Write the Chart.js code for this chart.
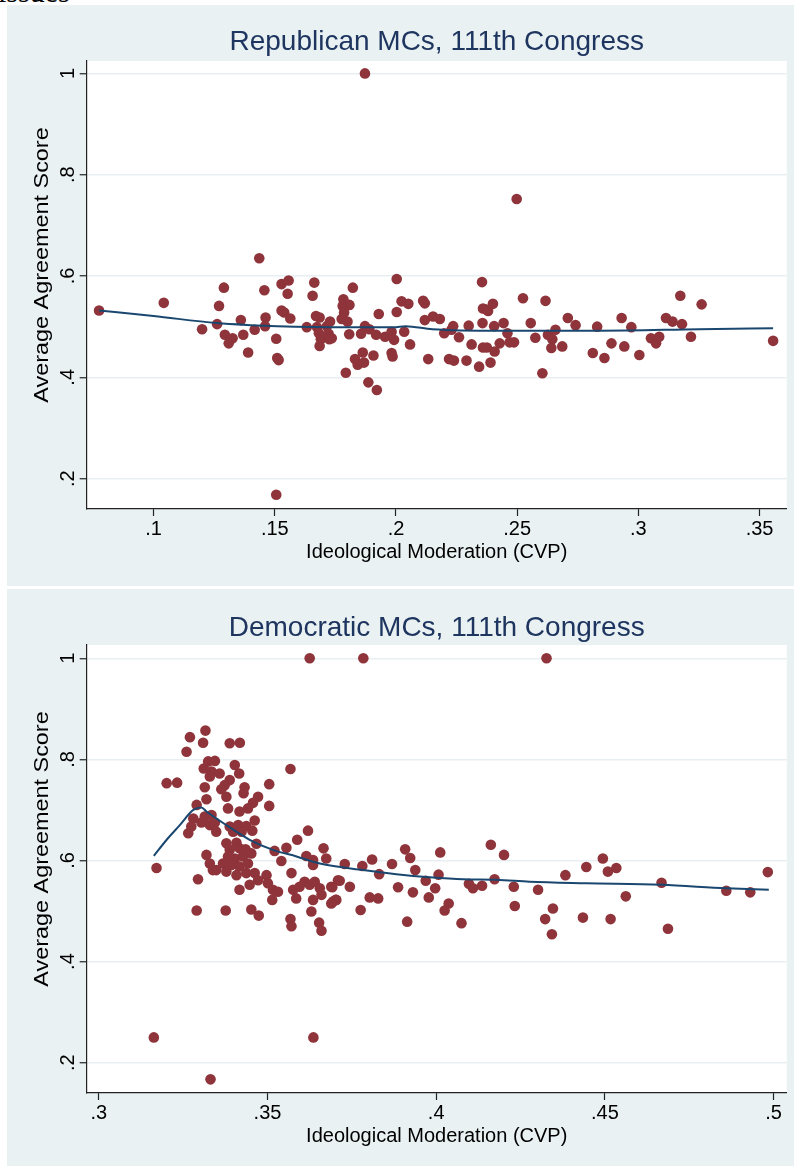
<!DOCTYPE html>
<html>
<head>
<meta charset="utf-8">
<script src="https://cdn.jsdelivr.net/npm/chart.js@4.4.1/dist/chart.umd.min.js"></script>
<style>
  body { margin: 0; background: #fff; width: 794px; height: 1166px; position: relative; overflow: hidden; }
  .panel { position: absolute; left: 7px; background: #EAF1F3; }
  .panel canvas { display: block; }
  #word { position: absolute; left: -2px; top: -25px; font: 30px "Liberation Serif", "Times New Roman", serif; color: #000; }
</style>
</head>
<body>
<div id="word">issues</div>
<div class="panel" style="top:5px"><canvas id="repChart" width="787" height="581"></canvas></div>
<div class="panel" style="top:589px"><canvas id="demChart" width="787" height="577"></canvas></div>
<script>
// Republicans: CVP (ideological moderation) vs. average agreement score
const repCvp = [
  0.0775, 0.1042, 0.1200, 0.1262, 0.1270, 0.1290, 0.1294, 0.1310, 0.1326, 0.1360,
  0.1370, 0.1390, 0.1417, 0.1436, 0.1457, 0.1462, 0.1460, 0.1506, 0.1510, 0.1516,
  0.1528, 0.1557, 0.1553, 0.1528, 0.1539, 0.1564, 0.1632, 0.1656, 0.1663, 0.1670,
  0.1685, 0.1674, 0.1682, 0.1690, 0.1685, 0.1715, 0.1728, 0.1722, 0.1735, 0.1725,
  0.1783, 0.1780, 0.1808, 0.1786, 0.1776, 0.1800, 0.1822, 0.1807, 0.1793, 0.1831,
  0.1842, 0.1863, 0.1868, 0.1856, 0.1872, 0.1890, 0.1907, 0.1886, 0.1921, 0.1918,
  0.1929, 0.1955, 0.1982, 0.1992, 0.1982, 0.1986, 0.2003, 0.2003, 0.2023, 0.2051,
  0.2034, 0.2058, 0.2112, 0.2119, 0.2119, 0.2133, 0.2153, 0.2181, 0.2199, 0.2219,
  0.2239, 0.2229, 0.2236, 0.2260, 0.2291, 0.2300, 0.2312, 0.2343, 0.2355, 0.2359,
  0.2373, 0.2380, 0.2400, 0.2357, 0.2359, 0.2375, 0.2390, 0.2407, 0.2405, 0.2428,
  0.2444, 0.2460, 0.2469, 0.2487, 0.2524, 0.2556, 0.2575, 0.2604, 0.2617, 0.2627,
  0.2645, 0.2658, 0.2641, 0.2686, 0.2709, 0.2741, 0.2812, 0.2830, 0.2860, 0.2889,
  0.2931, 0.2942, 0.2971, 0.3004, 0.3052, 0.3073, 0.3086, 0.3114, 0.3141, 0.3180,
  0.3173, 0.3217, 0.3261, 0.3556, 0.1872, 0.2498, 0.1506
];
const repScore = [
  0.532, 0.547, 0.495, 0.505, 0.541, 0.577, 0.484, 0.467, 0.477, 0.513,
  0.484, 0.449, 0.494, 0.635, 0.572, 0.518, 0.501, 0.476, 0.438, 0.434,
  0.584, 0.591, 0.565, 0.532, 0.528, 0.516, 0.499, 0.561, 0.587, 0.521,
  0.518, 0.499, 0.487, 0.475, 0.462, 0.501, 0.510, 0.486, 0.477, 0.475,
  0.554, 0.541, 0.543, 0.528, 0.515, 0.510, 0.577, 0.485, 0.409, 0.436,
  0.425, 0.449, 0.429, 0.486, 0.501, 0.495, 0.443, 0.390, 0.375, 0.484,
  0.525, 0.480, 0.490, 0.474, 0.448, 0.441, 0.594, 0.529, 0.550, 0.545,
  0.490, 0.465, 0.551, 0.546, 0.513, 0.436, 0.520, 0.515, 0.487, 0.436,
  0.433, 0.494, 0.501, 0.479, 0.433, 0.502, 0.465, 0.421, 0.588, 0.536,
  0.534, 0.531, 0.545, 0.507, 0.459, 0.459, 0.429, 0.451, 0.501, 0.467,
  0.507, 0.487, 0.469, 0.469, 0.556, 0.507, 0.478, 0.408, 0.551, 0.484,
  0.475, 0.494, 0.458, 0.461, 0.517, 0.503, 0.448, 0.500, 0.438, 0.467,
  0.517, 0.461, 0.499, 0.444, 0.477, 0.467, 0.480, 0.517, 0.510, 0.505,
  0.561, 0.480, 0.544, 0.472, 1.000, 0.752, 0.168
];
// lowess curve for Republicans
const repFitX = [0.0775, 0.100, 0.126, 0.140, 0.151, 0.178, 0.199, 0.204, 0.215, 0.243, 0.284, 0.325, 0.3556];
const repFitY = [0.532, 0.521, 0.507, 0.503, 0.501, 0.499, 0.499, 0.501, 0.495, 0.492, 0.492, 0.495, 0.497];

// Democrats
const demCvp = [
  0.3270, 0.3316, 0.3260, 0.3309, 0.3388, 0.3418, 0.3201, 0.3232, 0.3568, 0.3171,
  0.3324, 0.3344, 0.3311, 0.3334, 0.3358, 0.3329, 0.3403, 0.3416, 0.3388, 0.3373,
  0.3314, 0.3363, 0.3378, 0.3432, 0.3429, 0.3383, 0.3472, 0.3457, 0.3442, 0.3417,
  0.3505, 0.3505, 0.3319, 0.3290, 0.3280, 0.3314, 0.3334, 0.3344, 0.3304, 0.3329,
  0.3348, 0.3265, 0.3274, 0.3388, 0.3413, 0.3423, 0.3437, 0.3462, 0.3455, 0.3398,
  0.3378, 0.3408, 0.3388, 0.3417, 0.3435, 0.3467, 0.3383, 0.3403, 0.3427, 0.3452,
  0.3368, 0.3393, 0.3417, 0.3442, 0.3348, 0.3378, 0.3408, 0.3437, 0.3462, 0.3497,
  0.3319, 0.3329, 0.3338, 0.3417, 0.3447, 0.3472, 0.3501, 0.3516, 0.3531, 0.3514,
  0.3294, 0.3521, 0.3556, 0.3541, 0.3588, 0.3620, 0.3615, 0.3635, 0.3666, 0.3674,
  0.3635, 0.3571, 0.3576, 0.3595, 0.3610, 0.3625, 0.3640, 0.3655, 0.3585, 0.3635,
  0.3660, 0.3689, 0.3694, 0.3709, 0.3704, 0.3290, 0.3376, 0.3452, 0.3474, 0.3568,
  0.3571, 0.3630, 0.3653, 0.3660,
  0.3729, 0.3781, 0.3810, 0.3831, 0.3869, 0.3908, 0.3923, 0.3938, 0.4012, 0.4007,
  0.3969, 0.3997, 0.3887, 0.3931, 0.3978, 0.3714, 0.3692, 0.3744, 0.3702, 0.3689,
  0.3803, 0.3828, 0.3776, 0.3914, 0.4037, 0.4025, 0.4075, 0.4097, 0.4109, 0.4136,
  0.4162, 0.4201, 0.4173, 0.4230, 0.4233,
  0.4302, 0.4383, 0.4445, 0.4494, 0.4509, 0.4534, 0.4346, 0.4323, 0.4343, 0.4435,
  0.4517, 0.4562, 0.4668, 0.4687, 0.4860, 0.4931, 0.4983,
  0.3625, 0.3784, 0.4327, 0.3163, 0.3331, 0.3636
];
const demScore = [
  0.844, 0.857, 0.815, 0.833, 0.832, 0.833, 0.753, 0.754, 0.781, 0.585,
  0.796, 0.797, 0.782, 0.776, 0.772, 0.766, 0.789, 0.772, 0.759, 0.749,
  0.745, 0.741, 0.726, 0.745, 0.733, 0.703, 0.726, 0.714, 0.703, 0.697,
  0.751, 0.708, 0.721, 0.710, 0.683, 0.687, 0.690, 0.675, 0.675, 0.670,
  0.657, 0.654, 0.667, 0.667, 0.670, 0.657, 0.668, 0.679, 0.659, 0.657,
  0.634, 0.635, 0.621, 0.624, 0.622, 0.633, 0.608, 0.604, 0.608, 0.614,
  0.594, 0.591, 0.588, 0.594, 0.581, 0.578, 0.571, 0.575, 0.575, 0.571,
  0.611, 0.594, 0.581, 0.542, 0.552, 0.561, 0.555, 0.542, 0.538, 0.522,
  0.563, 0.619, 0.625, 0.599, 0.641, 0.659, 0.609, 0.601, 0.624, 0.604,
  0.591, 0.575, 0.542, 0.548, 0.558, 0.552, 0.558, 0.545, 0.525, 0.522,
  0.532, 0.548, 0.519, 0.561, 0.522, 0.501, 0.501, 0.503, 0.491, 0.484,
  0.470, 0.499, 0.477, 0.461,
  0.593, 0.589, 0.602, 0.573, 0.593, 0.622, 0.605, 0.581, 0.616, 0.572,
  0.560, 0.545, 0.547, 0.537, 0.527, 0.560, 0.547, 0.548, 0.522, 0.515,
  0.527, 0.525, 0.502, 0.479, 0.515, 0.501, 0.476, 0.554, 0.545, 0.550,
  0.631, 0.611, 0.563, 0.548, 0.510,
  0.542, 0.571, 0.587, 0.604, 0.578, 0.585, 0.505, 0.484, 0.454, 0.487,
  0.484, 0.529, 0.556, 0.465, 0.540, 0.537, 0.577,
  1.000, 1.000, 1.000, 0.250, 0.167, 0.250
];
// lowess curve for Democrats
const demFitX = [0.3163, 0.3201, 0.3240, 0.3280, 0.3304, 0.3319, 0.3378, 0.3447, 0.3516, 0.3586, 0.3655,
  0.3783, 0.3882, 0.3981, 0.4080, 0.4178, 0.4277, 0.4445, 0.4667, 0.4860, 0.4986];
const demFitY = [0.609, 0.641, 0.670, 0.700, 0.705, 0.697, 0.670, 0.641, 0.621, 0.608, 0.594,
  0.581, 0.573, 0.567, 0.563, 0.562, 0.558, 0.555, 0.552, 0.545, 0.542];

// axis ticks
const yTicks = [0.2, 0.4, 0.6, 0.8, 1];
const yTickLabels = [".2", ".4", ".6", ".8", "1"];
const repXTicks = [0.1, 0.15, 0.2, 0.25, 0.3, 0.35];
const repXTickLabels = [".1", ".15", ".2", ".25", ".3", ".35"];
const demXTicks = [0.3, 0.35, 0.4, 0.45, 0.5];
const demXTickLabels = [".3", ".35", ".4", ".45", ".5"];

const fontFamily = '"Liberation Sans", Arial, Helvetica, sans-serif';
Chart.defaults.font.family = fontFamily;
Chart.defaults.color = "#000";

const toPoints = (xs, ys) => xs.map((x, i) => ({ x: x, y: ys[i] }));

// white plot region on the tinted panel
const plotBg = {
  id: "plotBg",
  beforeDraw(chart) {
    const { ctx, chartArea: a } = chart;
    ctx.save();
    ctx.fillStyle = "#fff";
    ctx.fillRect(a.left, a.top, a.right - a.left, a.bottom - a.top);
    ctx.restore();
  },
};

// y axis title: stretched lengthwise, a bit above the middle of the plot
const yTitle = {
  id: "yTitle",
  afterDraw(chart) {
    const { ctx, chartArea: a } = chart;
    ctx.save();
    ctx.translate(chart.scales.y.left + 35, (a.top + a.bottom) / 2 - 20);
    ctx.rotate(-Math.PI / 2);
    ctx.scale(1.17, 1);
    ctx.font = "20px " + fontFamily;
    ctx.fillStyle = "#000";
    ctx.textAlign = "center";
    ctx.textBaseline = "middle";
    ctx.fillText("Average Agreement Score", 0, 0);
    ctx.restore();
  },
};

function makePanel(id, opts) {
  const ctx = document.getElementById(id).getContext("2d");
  return new Chart(ctx, {
    type: "scatter",
    data: {
      datasets: [
        {
          label: "lowess",
          data: toPoints(opts.fitX, opts.fitY),
          showLine: true,
          borderColor: "#1A476F",
          borderWidth: 2,
          pointRadius: 0,
          cubicInterpolationMode: "monotone",
          order: 0,
        },
        {
          label: "members",
          data: toPoints(opts.xs, opts.ys),
          backgroundColor: "#8E343A",
          borderColor: "#8E343A",
          borderWidth: 0,
          pointRadius: 5.3,
          order: 1,
        },
      ],
    },
    options: {
      responsive: false,
      animation: false,
      layout: { padding: { left: 0, right: 7.3, top: 0, bottom: 0 } },
      plugins: {
        legend: { display: false },
        tooltip: { enabled: false },
        title: {
          display: true,
          text: opts.title,
          fullSize: false,
          color: "#1E3560",
          font: { size: 28, weight: "normal" },
          padding: { top: opts.titleTop, bottom: 56 - 33.6 - opts.titleTop },
        },
      },
      scales: {
        x: {
          type: "linear",
          min: opts.xMin,
          max: opts.xMax,
          afterBuildTicks: (s) => { s.ticks = opts.xTicks.map((v) => ({ value: v })); },
          afterFit: (s) => { s.height = opts.xAxisHeight; },
          ticks: {
            autoSkip: false,
            maxRotation: 0,
            padding: 1,
            font: { size: 20 },
            callback: (v, i) => opts.xTickLabels[i],
          },
          grid: { drawOnChartArea: false, tickColor: "#222", tickWidth: 1.2, tickLength: 7 },
          border: { color: "#222", width: 1.2 },
          title: {
            display: true,
            text: "Ideological Moderation (CVP)",
            font: { size: 20 },
            padding: { top: 0, bottom: opts.xTitleBottom },
          },
        },
        y: {
          min: opts.yMin,
          max: opts.yMax,
          afterBuildTicks: (s) => { s.ticks = yTicks.map((v) => ({ value: v })); },
          afterFit: (s) => { s.width = 79.7; },
          ticks: {
            autoSkip: false,
            minRotation: 90,
            maxRotation: 90,
            crossAlign: "center",
            padding: 3,
            font: { size: 20 },
            callback: (v, i) => yTickLabels[i],
          },
          grid: { color: "#E8EFF2", lineWidth: 1.5, tickColor: "#222", tickWidth: 1.2, tickLength: 7 },
          border: { color: "#222", width: 1.2 },
          title: { display: false },
        },
      },
    },
    plugins: [plotBg, yTitle],
  });
}

makePanel("repChart", {
  title: "Republican MCs, 111th Congress",
  xs: repCvp, ys: repScore, fitX: repFitX, fitY: repFitY,
  xMin: 0.0724, xMax: 0.3612, yMin: 0.14, yMax: 1.0245,
  xTicks: repXTicks, xTickLabels: repXTickLabels,
  titleTop: 20.5, xAxisHeight: 77, xTitleBottom: 22,
});

makePanel("demChart", {
  title: "Democratic MCs, 111th Congress",
  xs: demCvp, ys: demScore, fitX: demFitX, fitY: demFitY,
  xMin: 0.2964, xMax: 0.5039, yMin: 0.14, yMax: 1.0263,
  xTicks: demXTicks, xTickLabels: demXTickLabels,
  titleTop: 22, xAxisHeight: 73, xTitleBottom: 18,
});
</script>
</body>
</html>
